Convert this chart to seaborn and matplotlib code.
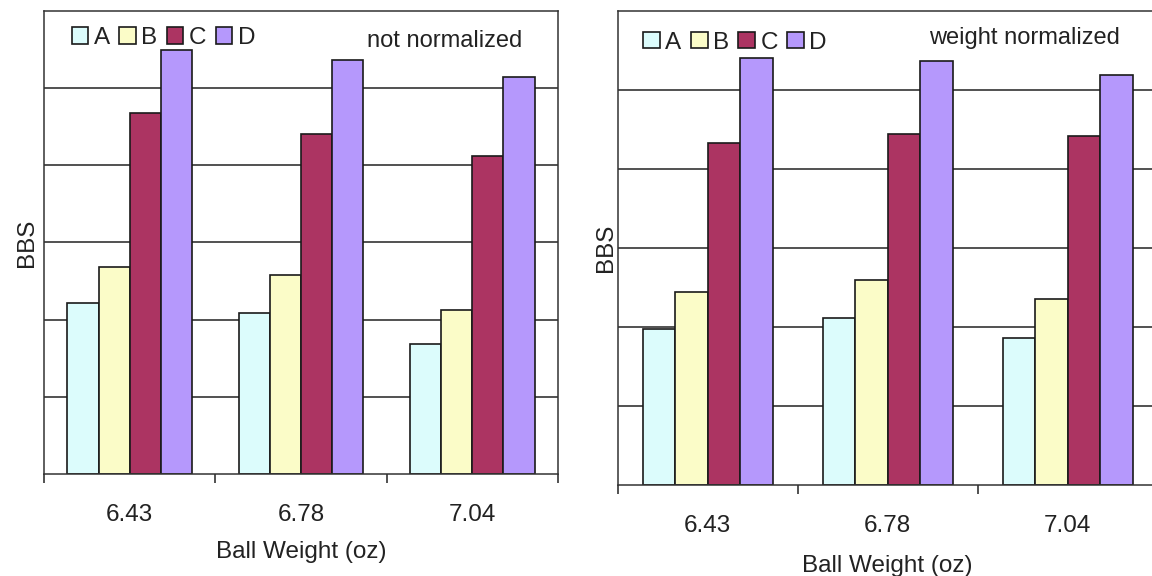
import matplotlib
matplotlib.use("Agg")
import matplotlib.pyplot as plt
import pandas as pd
import seaborn as sns

# Ball weights on the x axis and the four series
weights = ["6.43", "6.78", "7.04"]
series = ["A", "B", "C", "D"]

# BBS, not normalized
raw_A = [2.22, 2.09, 1.68]
raw_B = [2.68, 2.58, 2.12]
raw_C = [4.68, 4.40, 4.12]
raw_D = [5.49, 5.36, 5.15]

# BBS, weight normalized
norm_A = [1.98, 2.11, 1.86]
norm_B = [2.44, 2.60, 2.36]
norm_C = [4.33, 4.44, 4.42]
norm_D = [5.41, 5.37, 5.19]

colors = ["#dcfcfc", "#fbfcc8", "#ac3462", "#b598fc"]

sns.set_theme(style="white")
plt.rcParams["font.family"] = ["Liberation Sans", "DejaVu Sans"]

INK = "#222222"
FS = 17.5


def long_frame(a, b, c, d):
    rows = []
    for name, vals in zip(series, [a, b, c, d]):
        for w, v in zip(weights, vals):
            rows.append({"weight": w, "series": name, "bbs": v})
    return pd.DataFrame(rows)


def draw(ax, df, group_width, note, note_xy, legend_xy, ylabel_x):
    sns.barplot(data=df, x="weight", y="bbs", hue="series",
                order=weights, hue_order=series, palette=colors,
                width=group_width, errorbar=None, saturation=1,
                edgecolor="#1a1a1a", linewidth=1.2, ax=ax)
    ax.set_xlim(-0.5, 2.5)
    ax.set_ylim(0, 6)
    ax.set_yticks([1, 2, 3, 4, 5])
    ax.yaxis.grid(True, color=INK, linewidth=1.1)
    ax.xaxis.grid(False)
    ax.set_axisbelow(True)
    ax.tick_params(axis="y", length=0, labelleft=False)

    ax.set_xticks([-0.5, 0.5, 1.5, 2.5], minor=True)
    ax.tick_params(axis="x", which="major", bottom=False, length=0,
                   pad=21.5, labelsize=FS, labelcolor=INK)
    ax.tick_params(axis="x", which="minor", bottom=True, length=6.5,
                   width=1.1, color=INK, direction="out")

    for sp in ax.spines.values():
        sp.set_visible(True)
        sp.set_color("#333333")
        sp.set_linewidth(1.1)

    ax.set_xlabel("Ball Weight (oz)", fontsize=FS, color=INK)
    ax.xaxis.set_label_coords(0.5, -0.1462)
    ax.set_ylabel("BBS", fontsize=FS, color=INK)
    ax.yaxis.set_label_coords(ylabel_x, 0.5)

    ax.text(note_xy[0], note_xy[1], note, transform=ax.transAxes,
            ha="right", va="baseline", fontsize=17, color=INK)

    handles, labels = ax.get_legend_handles_labels()
    ax.legend(handles, labels, ncol=4, loc="upper left",
              bbox_to_anchor=legend_xy, frameon=False, fontsize=FS,
              handlelength=0.69, handleheight=0.66, handletextpad=0.22,
              columnspacing=0.38, borderpad=0, borderaxespad=0,
              labelcolor=INK)


fig = plt.figure(figsize=(11.52, 5.76), dpi=100)
ax1 = fig.add_axes([0.03845, 0.1776, 0.44566, 0.8031])
ax2 = fig.add_axes([0.5362, 0.1575, 0.46875, 0.8236])

draw(ax1, long_frame(raw_A, raw_B, raw_C, raw_D), 0.73,
     "not normalized", (0.9305, 0.923), (0.0534, 0.9656), -0.0113)
draw(ax2, long_frame(norm_A, norm_B, norm_C, norm_D), 0.72,
     "weight normalized", (0.930, 0.9296), (0.0474, 0.9562), -0.0015)

fig.savefig("out.png", dpi=100, facecolor="white")
